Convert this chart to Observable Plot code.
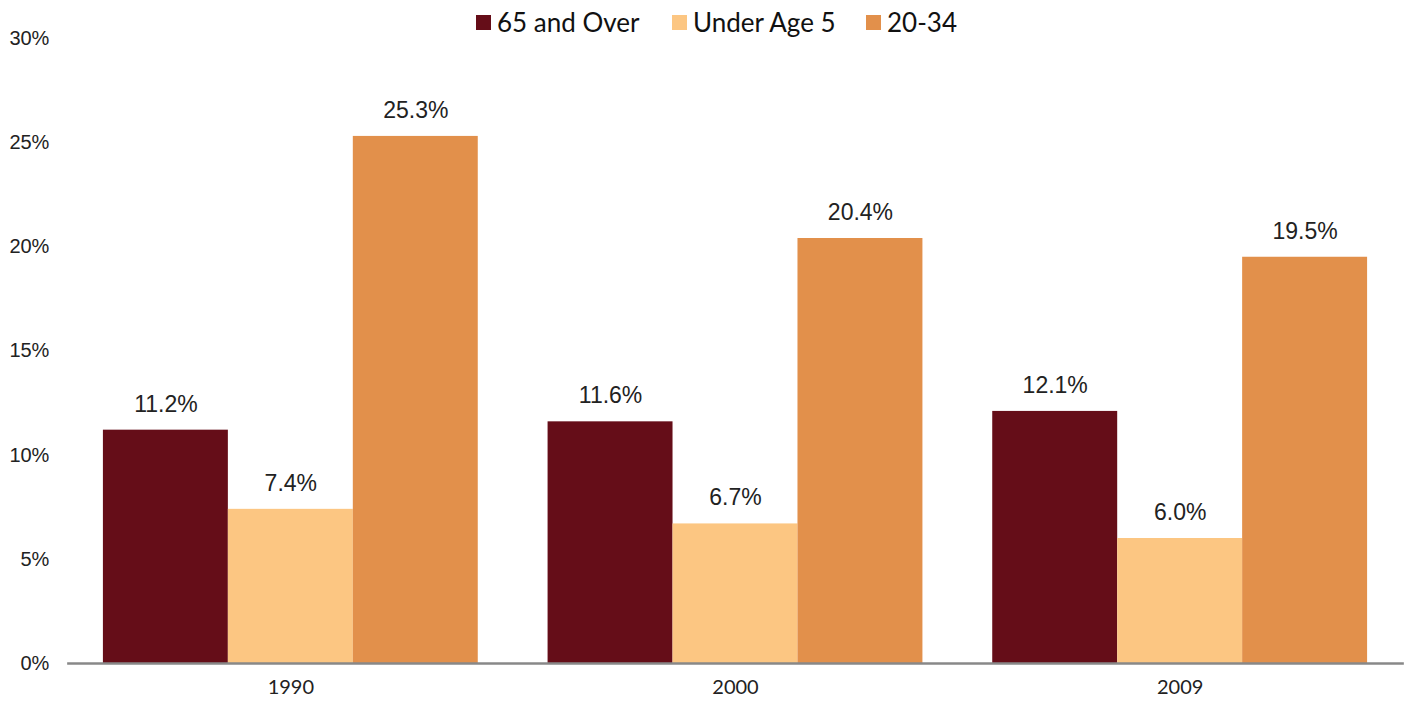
<!DOCTYPE html>
<html><head><meta charset="utf-8">
<script src="https://cdn.jsdelivr.net/npm/d3@7"></script>
<script src="https://cdn.jsdelivr.net/npm/@observablehq/plot@0.6"></script>
<style>
body{margin:0;background:#fff;}
#wrap{position:relative;width:1410px;height:704px;overflow:hidden;}
#legend{position:absolute;top:0;left:0;width:1410px;height:44px;font-family:Lato,sans-serif;font-size:26px;color:#111;white-space:nowrap;}
#legend .item{position:absolute;top:6px;display:flex;align-items:center;height:32px;}
#legend .sw{width:15px;height:15px;margin-right:6px;}
</style></head>
<body>
<div id="wrap"><div id="legend"></div><div id="chart"></div></div>
<script>
const years = ["1990", "2000", "2009"];
const series = ["65 and Over", "Under Age 5", "20-34"];
const over65 = [0.112, 0.116, 0.121];
const under5 = [0.074, 0.067, 0.060];
const age2034 = [0.253, 0.204, 0.195];
const colors = ["#650d18", "#fcc682", "#e2904b"];
const yTicks = [0, 0.05, 0.10, 0.15, 0.20, 0.25, 0.30];
const legendLeft = [476, 672, 866];

const seriesValues = [over65, under5, age2034];
const data = [];
years.forEach((yr, i) => series.forEach((s, j) => data.push({year: yr, series: s, value: seriesValues[j][i]})));

const legend = document.getElementById("legend");
series.forEach((s, j) => {
  const it = document.createElement("div"); it.className = "item"; it.style.left = legendLeft[j] + "px";
  const sw = document.createElement("div"); sw.className = "sw"; sw.style.background = colors[j];
  const t = document.createElement("span"); t.textContent = s;
  it.appendChild(sw); it.appendChild(t); legend.appendChild(it);
});

const fmt = d3.format(".1%");
const chart = Plot.plot({
  width: 1410, height: 704,
  marginTop: 38, marginBottom: 41, marginLeft: 68, marginRight: 8,
  style: {fontFamily: "Liberation Sans, Arial, sans-serif", background: "#fff"},
  fx: {domain: years, paddingInner: 0.157, paddingOuter: 0.0785, round: false, label: null},
  x: {domain: series, padding: 0, round: false, axis: null},
  y: {domain: [0, 0.30], axis: null},
  color: {domain: series, range: colors},
  marks: [
    Plot.axisY(yTicks, {tickSize: 0, tickPadding: 54, tickFormat: d3.format(".0%"), fontSize: 20, fill: "#222", label: null}),
    Plot.axisFx({anchor: "bottom", tickSize: 0, tickPadding: 16, fontSize: 20, fontFamily: "Lato, sans-serif", fill: "#222", label: null}),
    Plot.barY(data, {fx: "year", x: "series", y: "value", fill: "series"}),
    Plot.text(data, {fx: "year", x: "series", y: "value", text: d => fmt(d.value), dy: -26, fontSize: 23, fill: "#222"}),
    Plot.frame({anchor: "bottom", stroke: "#888", strokeWidth: 2.5, facet: "super", insetLeft: -35, insetRight: -35})
  ]
});
document.getElementById("chart").appendChild(chart);
</script>
</body></html>
